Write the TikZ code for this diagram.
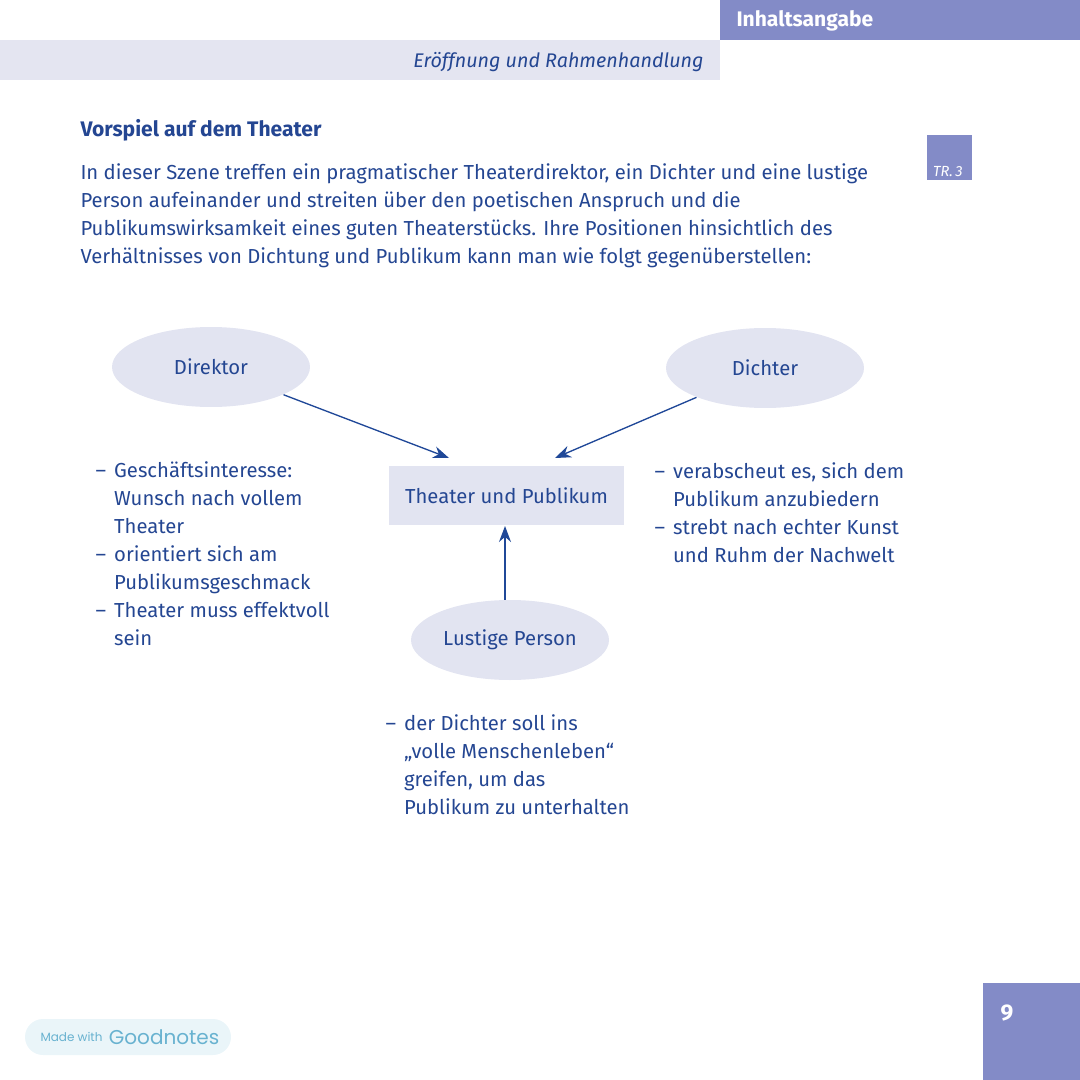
\documentclass[tikz,border=0pt]{standalone}
\usepackage{fontspec}
\setmainfont{Fira Sans}
\newfontfamily\badgefont{Poppins}
\usetikzlibrary{arrows.meta,shapes.geometric,positioning}

\definecolor{txtblue}{RGB}{36,70,146}
\definecolor{headblue}{RGB}{131,139,199}
\definecolor{paleband}{RGB}{228,229,241}
\definecolor{ellfill}{RGB}{226,228,241}
\definecolor{arrblue}{RGB}{32,72,152}
\definecolor{badgebg}{RGB}{234,245,249}
\definecolor{badgetxt}{RGB}{104,178,208}

\newcommand{\listdash}{\makebox[14pt][l]{--}}
\newcommand{\listgap}{\hspace*{14pt}}

\tikzset{every picture/.style={line width=0.75pt}}
\tikzset{
  bodytxt/.style={anchor=north west,inner sep=0pt,align=left,text=txtblue,font=\fontsize{15.2}{21}\selectfont},
  person/.style={ellipse,fill=ellfill,minimum width=148.5pt,minimum height=60pt,inner sep=0pt,text=txtblue,font=\fontsize{15.2}{21}\selectfont},
  arr/.style={draw=arrblue,line width=1pt,-{Stealth[length=12pt,width=9pt]}}
}

\begin{document}
\begin{tikzpicture}[x=0.75pt,y=0.75pt,yscale=-1,xscale=1]
    \useasboundingbox (0,0) rectangle (1080,1080);
    
    %Header bars
    \fill[headblue] (720,0) rectangle (1080,40);
    \fill[paleband] (0,40) rectangle (720,80);
    \node (head) [anchor=west,inner sep=0pt,text=white,font=\fontsize{15.8}{17}\selectfont\bfseries] at (736,21) {Inhaltsangabe};
    \node (band) [anchor=east,inner sep=0pt,text=txtblue,font=\fontsize{14.8}{17}\selectfont\itshape] at (704,62) {Eröffnung und Rahmenhandlung};
    
    %Side tag
    \fill[headblue] (927,135) rectangle (972,180);
    \node (tag) [anchor=south east,inner sep=0pt,text=white,font=\fontsize{11}{12}\selectfont\itshape] at (963,177) {TR.\,3};
    
    % Title and text
    \node (title) [anchor=west,inner sep=0pt,text=txtblue,font=\fontsize{15.8}{17}\selectfont\bfseries] at (80,130) {Vorspiel auf dem Theater};
    \node (intro) [bodytxt] at (80,163) {In dieser Szene treffen ein pragmatischer Theaterdirektor, ein Dichter und eine lustige\\
      Person aufeinander und streiten über den poetischen Anspruch und die\\
      Publikumswirksamkeit eines guten Theaterstücks. Ihre Positionen hinsichtlich des\\
      Verhältnisses von Dichtung und Publikum kann man wie folgt gegenüberstellen:};
    
    % Diagram
    \node (dir) [person] at (211,367) {Direktor};
    \node (dich) [person] at (765,368) {Dichter};
    \node (tp) [fill=ellfill,minimum width=176pt,minimum height=44pt,inner sep=0pt,text=txtblue,font=\fontsize{15.2}{21}\selectfont] at (506.5,495.5) {Theater und Publikum};
    \node (lp) [person] at (510,640) {Lustige Person};
    
    \coordinate (tpA) at (449,458);
    \coordinate (tpB) at (555,458);
    \coordinate (tpC) at (505,526);
    \draw[arr] (dir) -- (tpA);
    \draw[arr] (dich) -- (tpB);
    \draw[arr] (lp.north -| tpC) -- (tpC);
    
    % Lists
    \node (dirlist) [bodytxt] at (95,461) {\listdash Geschäftsinteresse:\\
      \listgap Wunsch nach vollem\\
      \listgap Theater\\
      \listdash orientiert sich am\\
      \listgap Publikumsgeschmack\\
      \listdash Theater muss effektvoll\\
      \listgap sein};
    \node (dichlist) [bodytxt] at (654,462) {\listdash verabscheut es, sich dem\\
      \listgap Publikum anzubiedern\\
      \listdash strebt nach echter Kunst\\
      \listgap und Ruhm der Nachwelt};
    \node (lplist) [bodytxt] at (385,714) {\listdash der Dichter soll ins\\
      \listgap „volle Menschenleben“\\
      \listgap greifen, um das\\
      \listgap Publikum zu unterhalten};
    
    % Footer
    \fill[badgebg,rounded corners=13.5pt] (25,1019) rectangle (231,1055);
    \node (made) [anchor=west,inner sep=0pt,text=badgetxt,font=\badgefont\fontsize{9}{10}\selectfont] at (40,1037) {Made with};
    \node (gn) [right=4pt of made,inner sep=0pt,text=badgetxt,font=\badgefont\fontsize{15}{17}\selectfont] {Goodnotes};
    \fill[headblue] (983,983) rectangle (1080,1080);
    \node (page) [inner sep=0pt,text=white,font=\fontsize{17}{20}\selectfont\bfseries] at (1007,1013) {9};
    
\end{tikzpicture}
\end{document}
